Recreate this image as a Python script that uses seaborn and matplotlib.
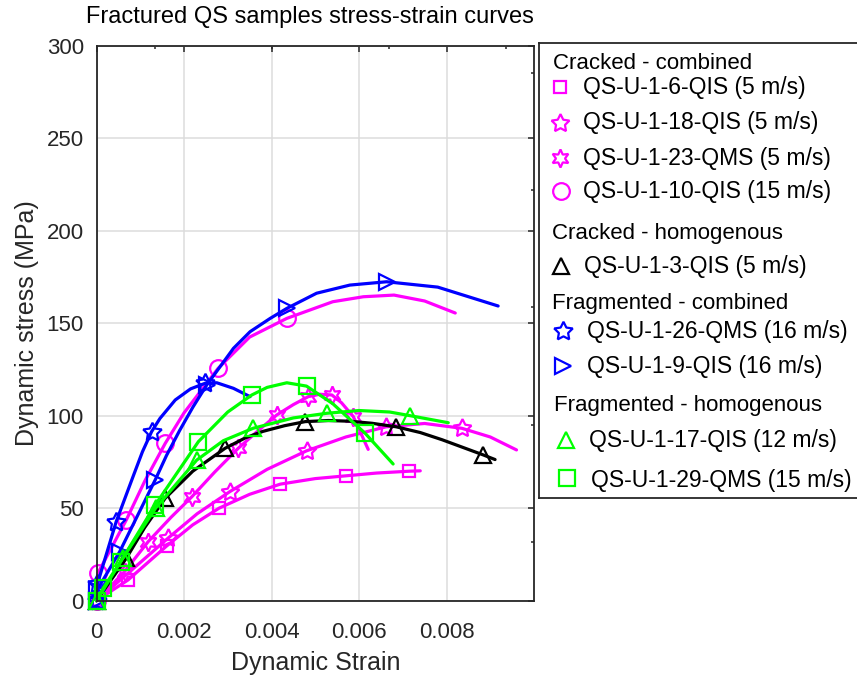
import matplotlib
matplotlib.use("Agg")
import matplotlib.pyplot as plt
from matplotlib.ticker import FixedLocator
import numpy as np
import pandas as pd
import seaborn as sns

# ---- values ----
# Cracked - combined
s6_strain = [0, 0.00072, 0.0016, 0.0022, 0.0028, 0.0035, 0.0042, 0.005, 0.0057, 0.0064, 0.00715, 0.0074]
s6_stress = [0, 11.2, 29.5, 41, 50, 57.5, 63, 66, 67.5, 69, 70, 70.2]
s6_marks = [0, 1, 2, 4, 6, 8, 10]

s18_strain = [0, 0.0008, 0.00163, 0.0023, 0.00305, 0.0039, 0.0048, 0.0057, 0.00662, 0.0075, 0.00835, 0.009, 0.0096]
s18_stress = [0, 16.5, 33.7, 47, 59, 71, 81, 88.5, 94, 95.8, 93.2, 88.5, 81.5]
s18_marks = [0, 2, 4, 6, 8, 10]

s23_strain = [0, 0.00064, 0.00118, 0.0017, 0.00218, 0.0027, 0.00324, 0.0037, 0.00412, 0.0045, 0.00484, 0.0051, 0.00538, 0.0056, 0.00587, 0.00621]
s23_stress = [0, 15.7, 31.9, 45, 56.2, 69.5, 82.4, 92, 100.4, 106, 110.3, 111.6, 111.2, 107, 99.5, 81.8]
s23_marks = [0, 1, 2, 4, 6, 8, 10, 12, 14]

s10_strain = [0, 0.00003, 0.00068, 0.0011, 0.00157, 0.002, 0.00278, 0.0035, 0.00435, 0.0054, 0.0061, 0.0068, 0.0075, 0.0082]
s10_stress = [0, 14.8, 43.6, 64.5, 85, 101.5, 125.6, 142.5, 152.6, 161.6, 164.3, 165.2, 162, 155.5]
s10_marks = [0, 1, 2, 4, 6, 8]

# Cracked - homogenous
s3_strain = [0, 0.00068, 0.0011, 0.00157, 0.0022, 0.00294, 0.0034, 0.0038, 0.0043, 0.00477, 0.0053, 0.0058, 0.0063, 0.00685, 0.0074, 0.0079, 0.00884, 0.00911]
s3_stress = [0, 22.9, 39.5, 55.4, 70, 82.4, 88, 91.5, 94.6, 96.8, 97.4, 97, 95.9, 94, 90.9, 87, 78.8, 76.3]
s3_marks = [0, 1, 3, 5, 9, 13, 16]

# Fragmented - combined
s26_strain = [0, 0.00002, 0.00045, 0.00085, 0.00105, 0.00126, 0.00145, 0.0018, 0.00215, 0.00248, 0.00275, 0.00313, 0.00351]
s26_stress = [0, 9, 42.7, 68, 80.5, 91.4, 98.5, 108.5, 114.5, 117.5, 117.8, 114.8, 110.3]
s26_marks = [0, 1, 2, 5, 9]

s9_strain = [0, 0.00002, 0.00053, 0.00134, 0.0016, 0.0019, 0.0022, 0.00252, 0.00313, 0.00351, 0.00397, 0.00435, 0.00503, 0.00579, 0.00663, 0.0078, 0.00918]
s9_stress = [0, 6, 26.5, 65.2, 78.5, 92, 104.5, 116.6, 136.4, 145.4, 152.6, 158, 166.2, 170.6, 172.4, 169.5, 159.3]
s9_marks = [0, 1, 2, 3, 7, 11, 14]

# Fragmented - homogenous
s17_strain = [0, 0.0006, 0.00135, 0.00229, 0.0029, 0.00358, 0.0045, 0.00526, 0.006, 0.0067, 0.00717, 0.00804]
s17_stress = [0, 23, 50, 76, 86.5, 93.2, 98.8, 101.3, 102.8, 102, 100, 96.2]
s17_marks = [0, 1, 2, 3, 5, 7, 10]

s29_strain = [0, 0.00015, 0.00055, 0.00134, 0.00233, 0.003, 0.00355, 0.0039, 0.00435, 0.0048, 0.0054, 0.00614, 0.00678]
s29_stress = [0, 6.7, 21, 51.7, 86, 102, 111.2, 115.3, 117.8, 116, 106.5, 90.5, 73.9]
s29_marks = [0, 1, 2, 3, 4, 6, 9, 11]

x_ticks = [0, 0.002, 0.004, 0.006, 0.008]
x_tick_labels = ["0", "0.002", "0.004", "0.006", "0.008"]
y_ticks = [0, 50, 100, 150, 200, 250, 300]
x_minor = [0.001337, 0.004011, 0.006686, 0.00936]
y_minor = [31.8, 95.2, 158.6, 222.0, 285.4]

MAGENTA = "#ff00ff"
BLUE = "#0000ff"
GREEN = "#00ff00"
BLACK = "#000000"
PENTAGRAM = (5, 1, 0)
HEXAGRAM = (6, 1, 0)

series = [
    ("QS-U-1-6-QIS (5 m/s)", s6_strain, s6_stress, s6_marks, MAGENTA, "s", 9),
    ("QS-U-1-18-QIS (5 m/s)", s18_strain, s18_stress, s18_marks, MAGENTA, PENTAGRAM, 13.5),
    ("QS-U-1-23-QMS (5 m/s)", s23_strain, s23_stress, s23_marks, MAGENTA, HEXAGRAM, 13),
    ("QS-U-1-10-QIS (15 m/s)", s10_strain, s10_stress, s10_marks, MAGENTA, "o", 12),
    ("QS-U-1-3-QIS (5 m/s)", s3_strain, s3_stress, s3_marks, BLACK, "^", 12),
    ("QS-U-1-26-QMS (16 m/s)", s26_strain, s26_stress, s26_marks, BLUE, PENTAGRAM, 14),
    ("QS-U-1-9-QIS (16 m/s)", s9_strain, s9_stress, s9_marks, BLUE, ">", 12),
    ("QS-U-1-17-QIS (12 m/s)", s17_strain, s17_stress, s17_marks, GREEN, "^", 12),
    ("QS-U-1-29-QMS (15 m/s)", s29_strain, s29_stress, s29_marks, GREEN, "s", 12),
]

sns.set_style("whitegrid")
plt.rcParams['font.family'] = ['Liberation Sans', 'DejaVu Sans']
TXT = "#262626"

W, H = 857, 675
fig = plt.figure(figsize=(W / 100, H / 100), dpi=100)
ax = fig.add_axes([96.5 / W, 1 - 600.7 / H, (534 - 96.5) / W, (600.7 - 45.7) / H])

for label, xs, ys, marks, color, mk, ms in series:
    df = pd.DataFrame({"strain": xs, "stress": ys})
    sns.lineplot(data=df, x="strain", y="stress", ax=ax, sort=False, estimator=None,
                 color=color, linewidth=2.3, marker=mk, markevery=marks, markersize=ms,
                 markerfacecolor="none", markeredgecolor=color, markeredgewidth=1.6,
                 clip_on=False, legend=False)

ax.set_xlim(0, 0.01)
ax.set_ylim(0, 300)
ax.set_xticks(x_ticks)
ax.set_xticklabels(x_tick_labels)
ax.set_yticks(y_ticks)
ax.xaxis.set_minor_locator(FixedLocator(x_minor))
ax.yaxis.set_minor_locator(FixedLocator(y_minor))
ax.tick_params(which="both", direction="in", top=True, right=True, color=TXT)
ax.tick_params(axis="x", which="major", length=4.5, width=1.1, labelsize=16, pad=15, labelcolor=TXT)
ax.tick_params(axis="y", which="major", length=4.5, width=1.1, labelsize=16, pad=9, labelcolor=TXT)
ax.tick_params(which="minor", length=2.5, width=1.1)
ax.grid(which="major", color="#dcdcdc", linewidth=1.1)
ax.grid(which="minor", visible=False)
for sp in ax.spines.values():
    sp.set_color(TXT)
    sp.set_linewidth(1.3)

ax.set_xlabel("Dynamic Strain", fontsize=18, color=TXT)
ax.set_ylabel("Dynamic stress (MPa)", fontsize=18, color=TXT)
ax.xaxis.set_label_coords(0.502, -0.09)
ax.yaxis.set_label_coords(-0.131, 0.5)

fig.text(310 / W, 1 - 17 / H, "Fractured QS samples stress-strain curves",
         fontsize=17, ha="center", va="center", color="#000000")

# legend box, drawn in pixel units, right edge runs past the figure like the original
lax = fig.add_axes([539 / W, 1 - 497.7 / H, 340 / W, (497.7 - 43.3) / H])
lax.set_xlim(539, 879)
lax.set_ylim(497.7, 43.3)
lax.set_xticks([])
lax.set_yticks([])
lax.grid(False)
lax.set_facecolor("white")
for sp in lax.spines.values():
    sp.set_color(TXT)
    sp.set_linewidth(1.3)

headers = [
    ("Cracked - combined", 552.7, 69.3),
    ("Cracked - homogenous", 551.7, 239.3),
    ("Fragmented - combined", 551.7, 308.7),
    ("Fragmented - homogenous", 554, 410.7),
]
for text, tx, ty in headers:
    lax.text(tx, ty, text, fontsize=16, ha="left", va="baseline", color="#000000")

legend_rows = [
    (560.0, 87.3, 583.3, 94.3),
    (560.0, 122.7, 583.3, 129.3),
    (560.0, 157.7, 583.3, 164.7),
    (560.7, 191.0, 583.3, 198.0),
    (560.7, 266.0, 584.0, 273.3),
    (563.3, 331.0, 586.7, 338.3),
    (563.3, 366.0, 586.7, 373.3),
    (566.0, 440.0, 589.3, 447.3),
    (567.3, 478.3, 591.0, 486.7),
]
for (label, xs, ys, marks, color, mk, ms), (mx, my, tx, ty) in zip(series, legend_rows):
    lax.plot([mx], [my], linestyle="none", marker=mk, markersize=ms,
             markerfacecolor="none", markeredgecolor=color, markeredgewidth=1.6)
    lax.text(tx, ty, label, fontsize=16.5, ha="left", va="baseline", color="#000000")

fig.savefig("out.png", dpi=100)
